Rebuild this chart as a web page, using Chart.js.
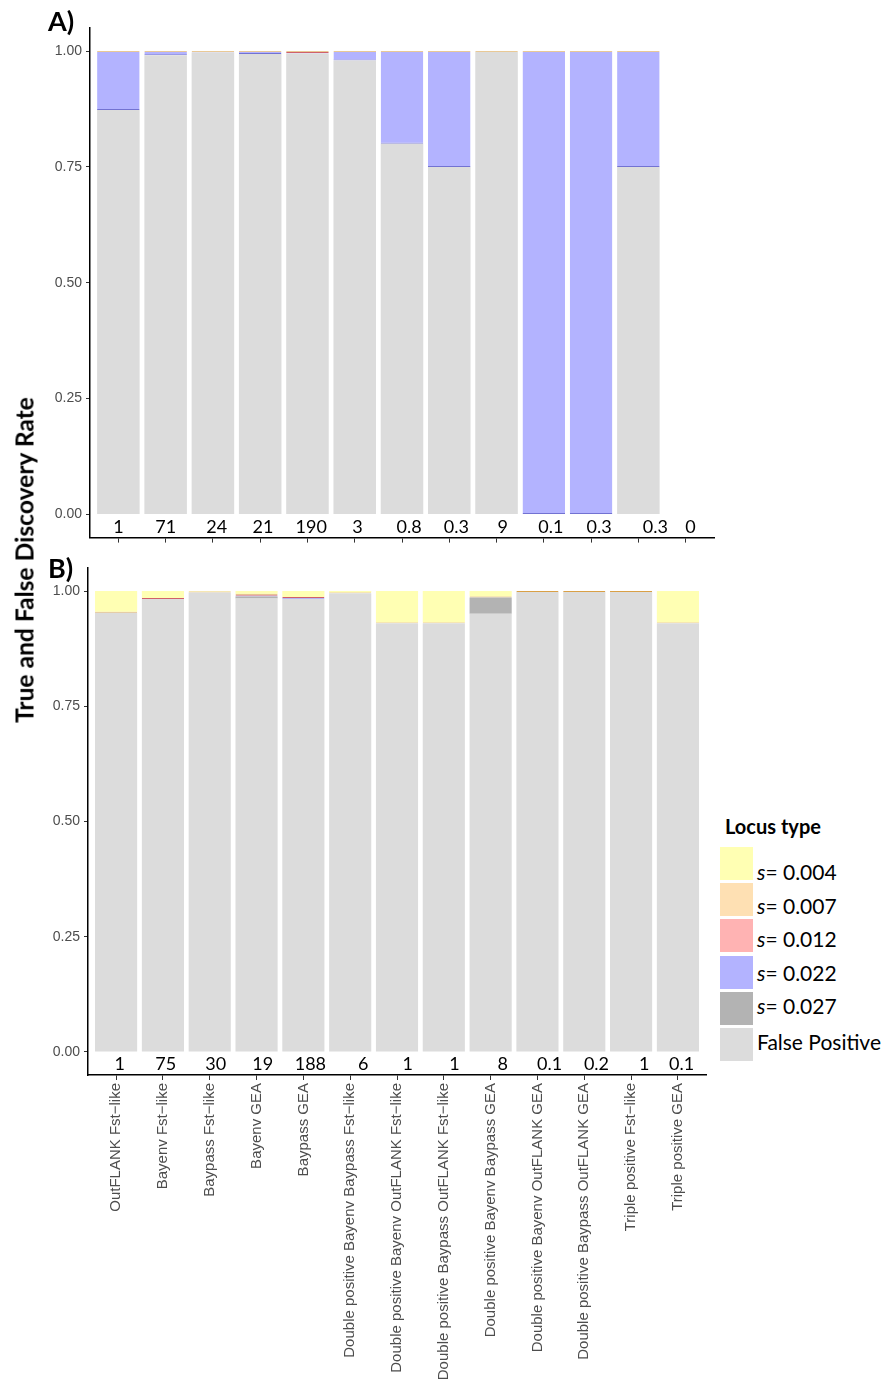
<!DOCTYPE html>
<html>
<head>
<meta charset="utf-8">
<script src="https://cdn.jsdelivr.net/npm/chart.js@4.4.1/dist/chart.umd.min.js"></script>
<style>
  body { margin: 0; background: #fff; width: 890px; height: 1384px; position: relative; overflow: hidden; font-family: Lato, sans-serif; }
  #chartA { position: absolute; left: 0; top: 0; }
  #chartB { position: absolute; left: 0; top: 550px; }
  .panel { position: absolute; font-weight: bold; font-size: 27px; color: #000; line-height: 1; }
  #ytitle { position: absolute; left: 24px; top: 560px; transform: translate(-50%, -50%) rotate(-90deg); white-space: nowrap; font-weight: bold; font-size: 24.6px; }
  #legend { position: absolute; left: 720px; top: 814px; }
  #legend .title { position: absolute; left: 5px; top: 0; font-weight: bold; font-size: 20px; white-space: nowrap; }
  #legend .sw { position: absolute; left: 0; width: 33px; height: 33px; }
  #legend .lab { position: absolute; left: 37px; font-size: 21px; line-height: 1; white-space: nowrap; transform: translateY(-50%); }
</style>
</head>
<body>
<canvas id="chartA" width="730" height="550"></canvas>
<canvas id="chartB" width="720" height="834"></canvas>
<div class="panel" style="left:48px;top:7px">A)</div>
<div class="panel" style="left:48px;top:554px">B)</div>
<div id="ytitle">True and False Discovery Rate</div>
<div id="legend"></div>

<script>
// === Categories ===
const categories = [
  'OutFLANK Fst−like', 'Bayenv Fst−like', 'Baypass Fst−like', 'Bayenv GEA', 'Baypass GEA',
  'Double positive Bayenv Baypass Fst−like', 'Double positive Bayenv OutFLANK Fst−like',
  'Double positive Baypass OutFLANK Fst−like', 'Double positive Bayenv Baypass GEA',
  'Double positive Bayenv OutFLANK GEA', 'Double positive Baypass OutFLANK GEA',
  'Triple positive Fst−like', 'Triple positive GEA'
];
const yTicks = [0, 0.25, 0.5, 0.75, 1];

// === Locus types (legend order, top of stack first) ===
const locusTypes = ['s= 0.004', 's= 0.007', 's= 0.012', 's= 0.022', 's= 0.027', 'False Positive'];
const fillColors = ['#ffffb3', '#fee0b3', '#ffb3b3', '#b3b3ff', '#b3b3b3', '#dcdcdc'];
const lineColors = ['#ffffb3', '#d9a046', '#d0606a', '#7272d2', '#9c9c9c', '#dcdcdc'];

// === Panel A values (proportion of detected loci) ===
const a004 = [0, 0, 0, 0, 0, 0, 0, 0, 0, 0, 0, 0, null];
const a007 = [0.002, 0.002, 0.002, 0.002, 0.002, 0.002, 0.002, 0.002, 0.002, 0.002, 0.002, 0.002, null];
const a012 = [0, 0, 0, 0, 0.002, 0, 0, 0, 0, 0, 0, 0, null];
const a022 = [0.125, 0.007, 0.001, 0.004, 0.001, 0.018, 0.198, 0.248, 0, 0.998, 0.998, 0.248, null];
const a027 = [0, 0, 0, 0, 0, 0, 0, 0, 0, 0, 0, 0, null];
const aFP  = [0.873, 0.991, 0.997, 0.994, 0.995, 0.980, 0.800, 0.750, 0.998, 0, 0, 0.750, null];
const countsA = ['1', '71', '24', '21', '190', '3', '0.8', '0.3', '9', '0.1', '0.3', '0.3', '0'];
const shiftA = [0, 0, 0.08, 0.06, 0.08, 0.06, 0.15, 0.15, 0.13, 0.15, 0.17, 0.36, 0.1];

// === Panel B values ===
const b004 = [0.045, 0.015, 0.001, 0.006, 0.013, 0.003, 0.068, 0.068, 0.012, 0, 0, 0, 0.068];
const b007 = [0.002, 0, 0.002, 0.002, 0, 0.002, 0.002, 0.002, 0.002, 0.002, 0.002, 0.002, 0.002];
const b012 = [0, 0.002, 0, 0.002, 0.002, 0, 0, 0, 0, 0, 0, 0, 0];
const b022 = [0, 0, 0, 0.002, 0.002, 0, 0, 0, 0, 0, 0, 0, 0];
const b027 = [0, 0, 0, 0.004, 0, 0, 0, 0, 0.035, 0, 0, 0, 0];
const bFP  = [0.953, 0.983, 0.997, 0.984, 0.983, 0.995, 0.930, 0.930, 0.951, 0.998, 0.998, 0.998, 0.930];
const countsB = ['1', '75', '30', '19', '188', '6', '1', '1', '8', '0.1', '0.2', '1', '0.1'];
const shiftB = [0.08, 0.06, 0.13, 0.13, 0.15, 0.28, 0.23, 0.23, 0.26, 0.26, 0.26, 0.28, 0.08];

// === Helpers ===
const toPoints = arr => arr.map((v, i) => ({ x: i + 1, y: v })).filter(p => p.y !== null);

function buildDatasets(series) {
  // series given top->bottom, chart stacks first dataset at bottom
  const ds = series.map((vals, k) => ({
    label: locusTypes[k],
    data: toPoints(vals),
    backgroundColor: fillColors[k],
    borderColor: lineColors[k],
    borderWidth: k === 1 || k === 2 ? 1 : (k === 3 ? { bottom: 1, top: 0, left: 0, right: 0 } : 0),
    borderSkipped: false,
    barPercentage: 0.9,
    categoryPercentage: 1
  }));
  return ds.reverse();
}

// === Count labels under each bar ===
const countLabels = {
  id: 'countLabels',
  afterDatasetsDraw(chart, args, opts) {
    const c = chart.ctx;
    const xs = chart.scales.x, ys = chart.scales.y;
    c.save();
    c.font = '18px Lato, sans-serif';
    c.fillStyle = '#000';
    c.textAlign = 'center';
    c.textBaseline = 'middle';
    opts.counts.forEach((t, i) => {
      c.fillText(t, xs.getPixelForValue(i + 1 + opts.shift[i]), ys.getPixelForValue(-0.027));
    });
    c.restore();
  }
};

function makeOptions(cfg) {
  return {
    responsive: false,
    animation: false,
    layout: { padding: { top: cfg.top, right: cfg.right, left: 0, bottom: 0 } },
    plugins: {
      legend: { display: false },
      tooltip: { enabled: false },
      countLabels: { counts: cfg.counts, shift: cfg.shift }
    },
    scales: {
      x: {
        type: 'linear', stacked: true, min: 0.4, max: 13.6, offset: false,
        afterBuildTicks: s => { s.ticks = categories.map((_, i) => ({ value: i + 1 })); },
        afterFit: s => { s.height = cfg.xHeight; },
        grid: { offset: false, drawOnChartArea: false, drawTicks: true, tickLength: 5, color: '#333' },
        border: { display: true, color: '#000', width: 1.5 },
        ticks: {
          display: cfg.showNames, autoSkip: false, maxRotation: 90, minRotation: 90, padding: 3,
          color: '#4d4d4d', font: { family: 'Liberation Sans, Arial', size: 15 },
          callback: v => categories[v - 1]
        }
      },
      y: {
        stacked: true, min: -0.05, max: 1.05,
        afterBuildTicks: s => { s.ticks = yTicks.map(v => ({ value: v })); },
        afterFit: s => { s.width = cfg.yWidth; },
        grid: { drawOnChartArea: false, drawTicks: true, tickLength: 4, color: '#333' },
        border: { display: true, color: '#000', width: 1.5 },
        ticks: {
          padding: 4, color: '#4d4d4d', font: { family: 'Liberation Sans, Arial', size: 14 },
          callback: v => v.toFixed(2)
        }
      }
    }
  };
}

// === Create Charts ===
new Chart(document.getElementById('chartA'), {
  type: 'bar',
  data: { datasets: buildDatasets([a004, a007, a012, a022, a027, aFP]) },
  options: makeOptions({ top: 28, right: 16, xHeight: 12, yWidth: 90, showNames: false, counts: countsA, shift: shiftA }),
  plugins: [countLabels]
});

new Chart(document.getElementById('chartB'), {
  type: 'bar',
  data: { datasets: buildDatasets([b004, b007, b012, b022, b027, bFP]) },
  options: makeOptions({ top: 18, right: 14, xHeight: 309, yWidth: 88, showNames: true, counts: countsB, shift: shiftB }),
  plugins: [countLabels]
});

// === Legend ===
const legend = document.getElementById('legend');
legend.innerHTML = '<div class="title">Locus type</div>' + locusTypes.map((t, k) => {
  const txt = t.startsWith('s=') ? '<i>s</i>' + t.slice(1) : t;
  const swTop = 33 + k * 36.2;
  const labMid = 57 + k * 33.6 + (k === 5 ? 2 : 0);
  return `<div class="sw" style="top:${swTop}px;background:${fillColors[k]}"></div>` +
         `<div class="lab" style="top:${labMid}px">${txt}</div>`;
}).join('');
</script>
</body>
</html>
